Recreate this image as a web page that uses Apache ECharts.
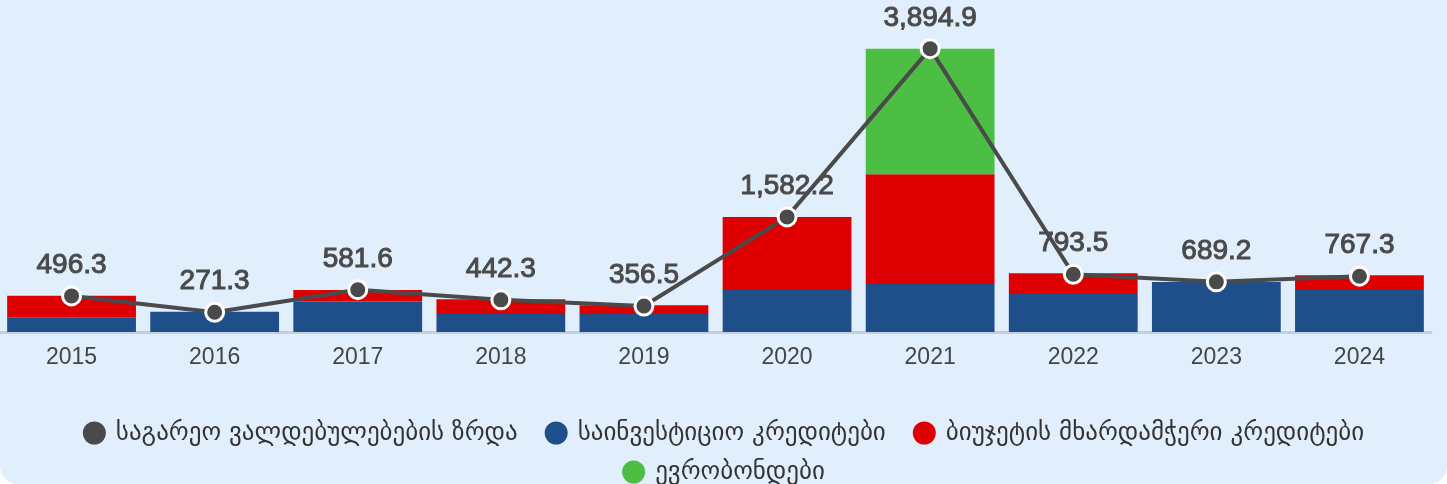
<!DOCTYPE html>
<html>
<head>
<meta charset="utf-8">
<script src="https://cdn.jsdelivr.net/npm/echarts@6/dist/echarts.min.js"></script>
<style>
html,body{margin:0;padding:0;background:#ffffff;}
#c{width:1447px;height:484px;background:#e1effd;border-radius:0 0 18px 18px;overflow:hidden;}
</style>
</head>
<body>
<div id="c"></div>
<script>
const years = ['2015','2016','2017','2018','2019','2020','2021','2022','2023','2024'];
const totalGrowth = [496.3, 271.3, 581.6, 442.3, 356.5, 1582.2, 3894.9, 793.5, 689.2, 767.3];
const investment = [202, 280, 418, 248, 248, 578, 661, 523, 689, 578];
const budgetSupport = [298, 0, 160, 202, 119, 1004, 1509, 285, 0, 202];
const eurobonds = [0, 0, 0, 0, 0, 0, 1725, 0, 0, 0];
const names = ['საგარეო ვალდებულებების ზრდა','საინვესტიციო კრედიტები','ბიუჯეტის მხარდამჭერი კრედიტები','ევრობონდები'];

const chart = echarts.init(document.getElementById('c'), null, {renderer:'canvas'});
const fmt = v => Number(v).toLocaleString('en-US',{minimumFractionDigits:1,maximumFractionDigits:1});
const legendBase = {
  left:'center',
  icon:'circle',
  itemWidth:23,
  itemHeight:23,
  itemGap:27,
  itemStyle:{borderWidth:0},
  textStyle:{fontSize:25,color:'#333',padding:[0,0,0,5],lineHeight:28,fontFamily:'DejaVu Sans, sans-serif'}
};
chart.setOption({
  backgroundColor:'transparent',
  animation:false,
  textStyle:{fontFamily:'Liberation Sans, Arial, sans-serif'},
  grid:{left:-1,width:1432,top:41,bottom:152,containLabel:false},
  legend:[
    Object.assign({}, legendBase, {data:names.slice(0,3), top:414}),
    Object.assign({}, legendBase, {data:names.slice(3), top:453})
  ],
  xAxis:{
    type:'category',
    data:years,
    axisLine:{lineStyle:{color:'#c3cfdc',width:3}},
    axisTick:{show:false},
    axisLabel:{fontSize:23,color:'#444',margin:14}
  },
  yAxis:{type:'value',min:0,max:4000,show:false,splitLine:{show:false}},
  series:[
    {name:names[1],type:'bar',stack:'a',data:investment,barWidth:'90%',itemStyle:{color:'#1e4f8a'},z:2},
    {name:names[2],type:'bar',stack:'a',data:budgetSupport,itemStyle:{color:'#de0000'},z:2},
    {name:names[3],type:'bar',stack:'a',data:eurobonds,itemStyle:{color:'#4bbe43'},z:2},
    {name:names[0],type:'line',data:totalGrowth,z:5,
      symbol:'circle',symbolSize:18,
      lineStyle:{color:'#4a4a4a',width:4},
      itemStyle:{color:'#4a4a4a',borderColor:'#ffffff',borderWidth:3},
      label:{show:true,position:'top',distance:6,fontSize:28,color:'#4a4a4a',
        textBorderColor:'#4a4a4a',textBorderWidth:1,formatter:p=>fmt(p.value)}
    }
  ]
});
</script>
</body>
</html>
